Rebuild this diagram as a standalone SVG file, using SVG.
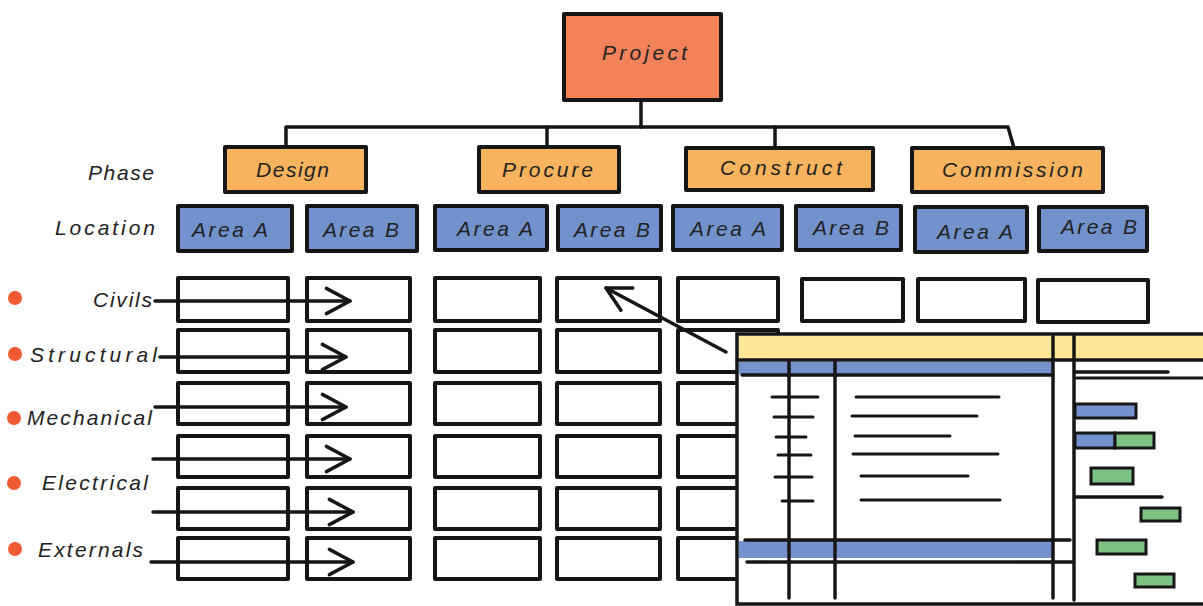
<svg xmlns="http://www.w3.org/2000/svg" width="1203" height="606" viewBox="0 0 1203 606">
  <style>
    .box { stroke: #161616; stroke-width: 4; stroke-linejoin: round; }
    .project { fill: #f2825a; }
    .phase { fill: #f7b35e; }
    .loc { fill: #7391cd; }
    .cell { fill: none; }
    .ln { stroke: #161616; stroke-width: 3.5; fill: none; stroke-linecap: round; stroke-linejoin: round; }
    .thin { stroke: #161616; stroke-width: 3; fill: none; stroke-linecap: round; }
    .lbl { font-family: "Liberation Sans", "DejaVu Sans", sans-serif; font-style: italic; font-size: 21px; fill: #222; }
    .dot { fill: #f05a33; }
    .bar-b { fill: #7391cd; stroke: #161616; stroke-width: 3; }
    .bar-g { fill: #7cc383; stroke: #161616; stroke-width: 3; }
  </style>
  <defs>
    <marker id="chev" viewBox="0 0 20 20" refX="18" refY="10" markerWidth="9" markerHeight="9" markerUnits="strokeWidth" orient="auto">
      <path d="M3 2 L18 10 L3 18" fill="none" stroke="#161616" stroke-width="2.2" stroke-linecap="round" stroke-linejoin="round"/>
    </marker>
  </defs>

  <rect width="1203" height="606" fill="#ffffff"/>

  <!-- tree connectors -->
  <g id="connectors">
    <path class="ln" d="M641 100 V127"/>
    <path class="ln" d="M286 146 V127 H1008 L1014 148"/>
    <path class="ln" d="M547 127 V146"/>
    <path class="ln" d="M775 127 V148"/>
  </g>

  <!-- root -->
  <g id="project">
    <rect class="box project" x="564" y="14" width="157" height="86"/>
    <text class="lbl" x="602" y="60" textLength="85" lengthAdjust="spacing">Project</text>
  </g>

  <!-- phases -->
  <g id="phase-design">
    <rect class="box phase" x="225" y="147" width="141" height="45"/>
    <text class="lbl" x="256" y="177" textLength="73" lengthAdjust="spacing">Design</text>
  </g>
  <g id="phase-procure">
    <rect class="box phase" x="479" y="147" width="140" height="45"/>
    <text class="lbl" x="502" y="177" textLength="91" lengthAdjust="spacing">Procure</text>
  </g>
  <g id="phase-construct">
    <rect class="box phase" x="686" y="148" width="187" height="42"/>
    <text class="lbl" x="720" y="175" textLength="122" lengthAdjust="spacing">Construct</text>
  </g>
  <g id="phase-commission">
    <rect class="box phase" x="912" y="148" width="191" height="44"/>
    <text class="lbl" x="942" y="177" textLength="141" lengthAdjust="spacing">Commission</text>
  </g>

  <!-- row headings -->
  <g id="heading-phase"><text class="lbl" x="88" y="180" textLength="66" lengthAdjust="spacing">Phase</text></g>
  <g id="heading-location"><text class="lbl" x="55" y="235" textLength="100" lengthAdjust="spacing">Location</text></g>

  <!-- locations -->
  <g id="loc-design-a">
    <rect class="box loc" x="178" y="206" width="114" height="45"/>
    <text class="lbl" x="192" y="237" textLength="76" lengthAdjust="spacing">Area A</text>
  </g>
  <g id="loc-design-b">
    <rect class="box loc" x="307" y="206" width="110" height="45"/>
    <text class="lbl" x="323" y="237" textLength="76" lengthAdjust="spacing">Area B</text>
  </g>
  <g id="loc-procure-a">
    <rect class="box loc" x="435" y="206" width="112" height="44"/>
    <text class="lbl" x="457" y="236" textLength="76" lengthAdjust="spacing">Area A</text>
  </g>
  <g id="loc-procure-b">
    <rect class="box loc" x="558" y="206" width="103" height="44"/>
    <text class="lbl" x="574" y="237" textLength="76" lengthAdjust="spacing">Area B</text>
  </g>
  <g id="loc-construct-a">
    <rect class="box loc" x="673" y="206" width="109" height="44"/>
    <text class="lbl" x="690" y="236" textLength="76" lengthAdjust="spacing">Area A</text>
  </g>
  <g id="loc-construct-b">
    <rect class="box loc" x="796" y="206" width="105" height="44"/>
    <text class="lbl" x="813" y="235" textLength="76" lengthAdjust="spacing">Area B</text>
  </g>
  <g id="loc-commission-a">
    <rect class="box loc" x="915" y="207" width="112" height="45"/>
    <text class="lbl" x="937" y="239" textLength="76" lengthAdjust="spacing">Area A</text>
  </g>
  <g id="loc-commission-b">
    <rect class="box loc" x="1039" y="207" width="108" height="44"/>
    <text class="lbl" x="1061" y="234" textLength="76" lengthAdjust="spacing">Area B</text>
  </g>

  <!-- discipline labels -->
  <g id="disc-civils">
    <circle class="dot" cx="15" cy="298" r="7"/>
    <text class="lbl" x="93" y="307" textLength="59" lengthAdjust="spacing">Civils</text>
  </g>
  <g id="disc-structural">
    <circle class="dot" cx="15" cy="354" r="7"/>
    <text class="lbl" x="30" y="362" textLength="127" lengthAdjust="spacing">Structural</text>
  </g>
  <g id="disc-mechanical">
    <circle class="dot" cx="14" cy="418" r="7"/>
    <text class="lbl" x="27" y="425" textLength="125" lengthAdjust="spacing">Mechanical</text>
  </g>
  <g id="disc-electrical">
    <circle class="dot" cx="14" cy="483" r="7"/>
    <text class="lbl" x="42" y="490" textLength="106" lengthAdjust="spacing">Electrical</text>
  </g>
  <g id="disc-externals">
    <circle class="dot" cx="15" cy="549" r="7"/>
    <text class="lbl" x="38" y="557" textLength="105" lengthAdjust="spacing">Externals</text>
  </g>

  <!-- work package grid -->
  <g id="grid" class="box cell">
    <g id="col-1">
      <rect x="178" y="278" width="110" height="43"/>
      <rect x="178" y="330" width="110" height="42"/>
      <rect x="178" y="383" width="110" height="41"/>
      <rect x="178" y="436" width="110" height="41"/>
      <rect x="178" y="488" width="110" height="41"/>
      <rect x="178" y="538" width="110" height="41"/>
    </g>
    <g id="col-2">
      <rect x="307" y="278" width="103" height="43"/>
      <rect x="307" y="330" width="103" height="42"/>
      <rect x="307" y="383" width="103" height="41"/>
      <rect x="307" y="436" width="103" height="41"/>
      <rect x="307" y="488" width="103" height="41"/>
      <rect x="307" y="538" width="103" height="41"/>
    </g>
    <g id="col-3">
      <rect x="435" y="278" width="105" height="43"/>
      <rect x="435" y="330" width="105" height="42"/>
      <rect x="435" y="383" width="105" height="41"/>
      <rect x="435" y="436" width="105" height="41"/>
      <rect x="435" y="488" width="105" height="41"/>
      <rect x="435" y="538" width="105" height="41"/>
    </g>
    <g id="col-4">
      <rect x="557" y="278" width="103" height="43"/>
      <rect x="557" y="330" width="103" height="42"/>
      <rect x="557" y="383" width="103" height="41"/>
      <rect x="557" y="436" width="103" height="41"/>
      <rect x="557" y="488" width="103" height="41"/>
      <rect x="557" y="538" width="103" height="41"/>
    </g>
    <g id="col-5">
      <rect x="678" y="278" width="100" height="43"/>
      <rect x="678" y="330" width="100" height="42"/>
      <rect x="678" y="383" width="100" height="41"/>
      <rect x="678" y="436" width="100" height="41"/>
      <rect x="678" y="488" width="100" height="41"/>
      <rect x="678" y="538" width="100" height="41"/>
    </g>
    <g id="col-6"><rect x="802" y="279" width="101" height="42"/></g>
    <g id="col-7"><rect x="918" y="279" width="107" height="42"/></g>
    <g id="col-8"><rect x="1038" y="280" width="110" height="42"/></g>
  </g>

  <!-- discipline flow arrows -->
  <g id="flow-arrows" class="ln">
    <path d="M155 301 H350" marker-end="url(#chev)"/>
    <path d="M160 357 H346" marker-end="url(#chev)"/>
    <path d="M155 407 H346" marker-end="url(#chev)"/>
    <path d="M153 459 H350" marker-end="url(#chev)"/>
    <path d="M153 512 H353" marker-end="url(#chev)"/>
    <path d="M151 562 H353" marker-end="url(#chev)"/>
  </g>

  <!-- schedule sheet -->
  <g id="schedule">
    <rect x="737" y="334" width="470" height="270" fill="#ffffff" stroke="#161616" stroke-width="3.5"/>
    <rect x="739" y="336" width="466" height="23" fill="#fde698"/>
    <rect x="739" y="362" width="314" height="12" fill="#7391cd"/>
    <rect x="739" y="541" width="314" height="17" fill="#7391cd"/>
    <g class="ln">
      <path d="M737 360 H1203"/>
      <path d="M742 375 H1053"/>
      <path d="M1053 336 V598"/>
      <path d="M1074 336 V600"/>
      <path d="M789 362 V598"/>
      <path d="M835 362 V598"/>
      <path d="M745 540 H1070"/>
      <path d="M747 562 H1072"/>
      <path d="M1075 372 H1168"/>
    </g>
    <path class="thin" d="M1076 378 H1203"/>
    <!-- task ids -->
    <g class="thin">
      <path d="M772 397 H818"/>
      <path d="M774 417 H813"/>
      <path d="M776 437 H806"/>
      <path d="M778 455 H811"/>
      <path d="M775 477 H812"/>
      <path d="M782 501 H813"/>
    </g>
    <!-- task names -->
    <g class="thin">
      <path d="M856 397 H999"/>
      <path d="M852 416 H977"/>
      <path d="M855 436 H950"/>
      <path d="M853 454 H998"/>
      <path d="M861 476 H968"/>
      <path d="M861 500 H1000"/>
    </g>
    <!-- bars -->
    <rect class="bar-b" x="1075" y="404" width="61" height="14"/>
    <rect class="bar-b" x="1075" y="433" width="40" height="15"/>
    <rect class="bar-g" x="1115" y="433" width="39" height="15"/>
    <rect class="bar-g" x="1091" y="468" width="42" height="16"/>
    <path class="ln" d="M1075 497 H1162"/>
    <rect class="bar-g" x="1141" y="508" width="39" height="13"/>
    <rect class="bar-g" x="1097" y="540" width="49" height="14"/>
    <rect class="bar-g" x="1135" y="574" width="39" height="13"/>
  </g>

  <!-- pointer from sheet to cell -->
  <g id="pointer" class="ln">
    <path d="M726 352 L606 288" marker-end="url(#chev)"/>
  </g>
</svg>
